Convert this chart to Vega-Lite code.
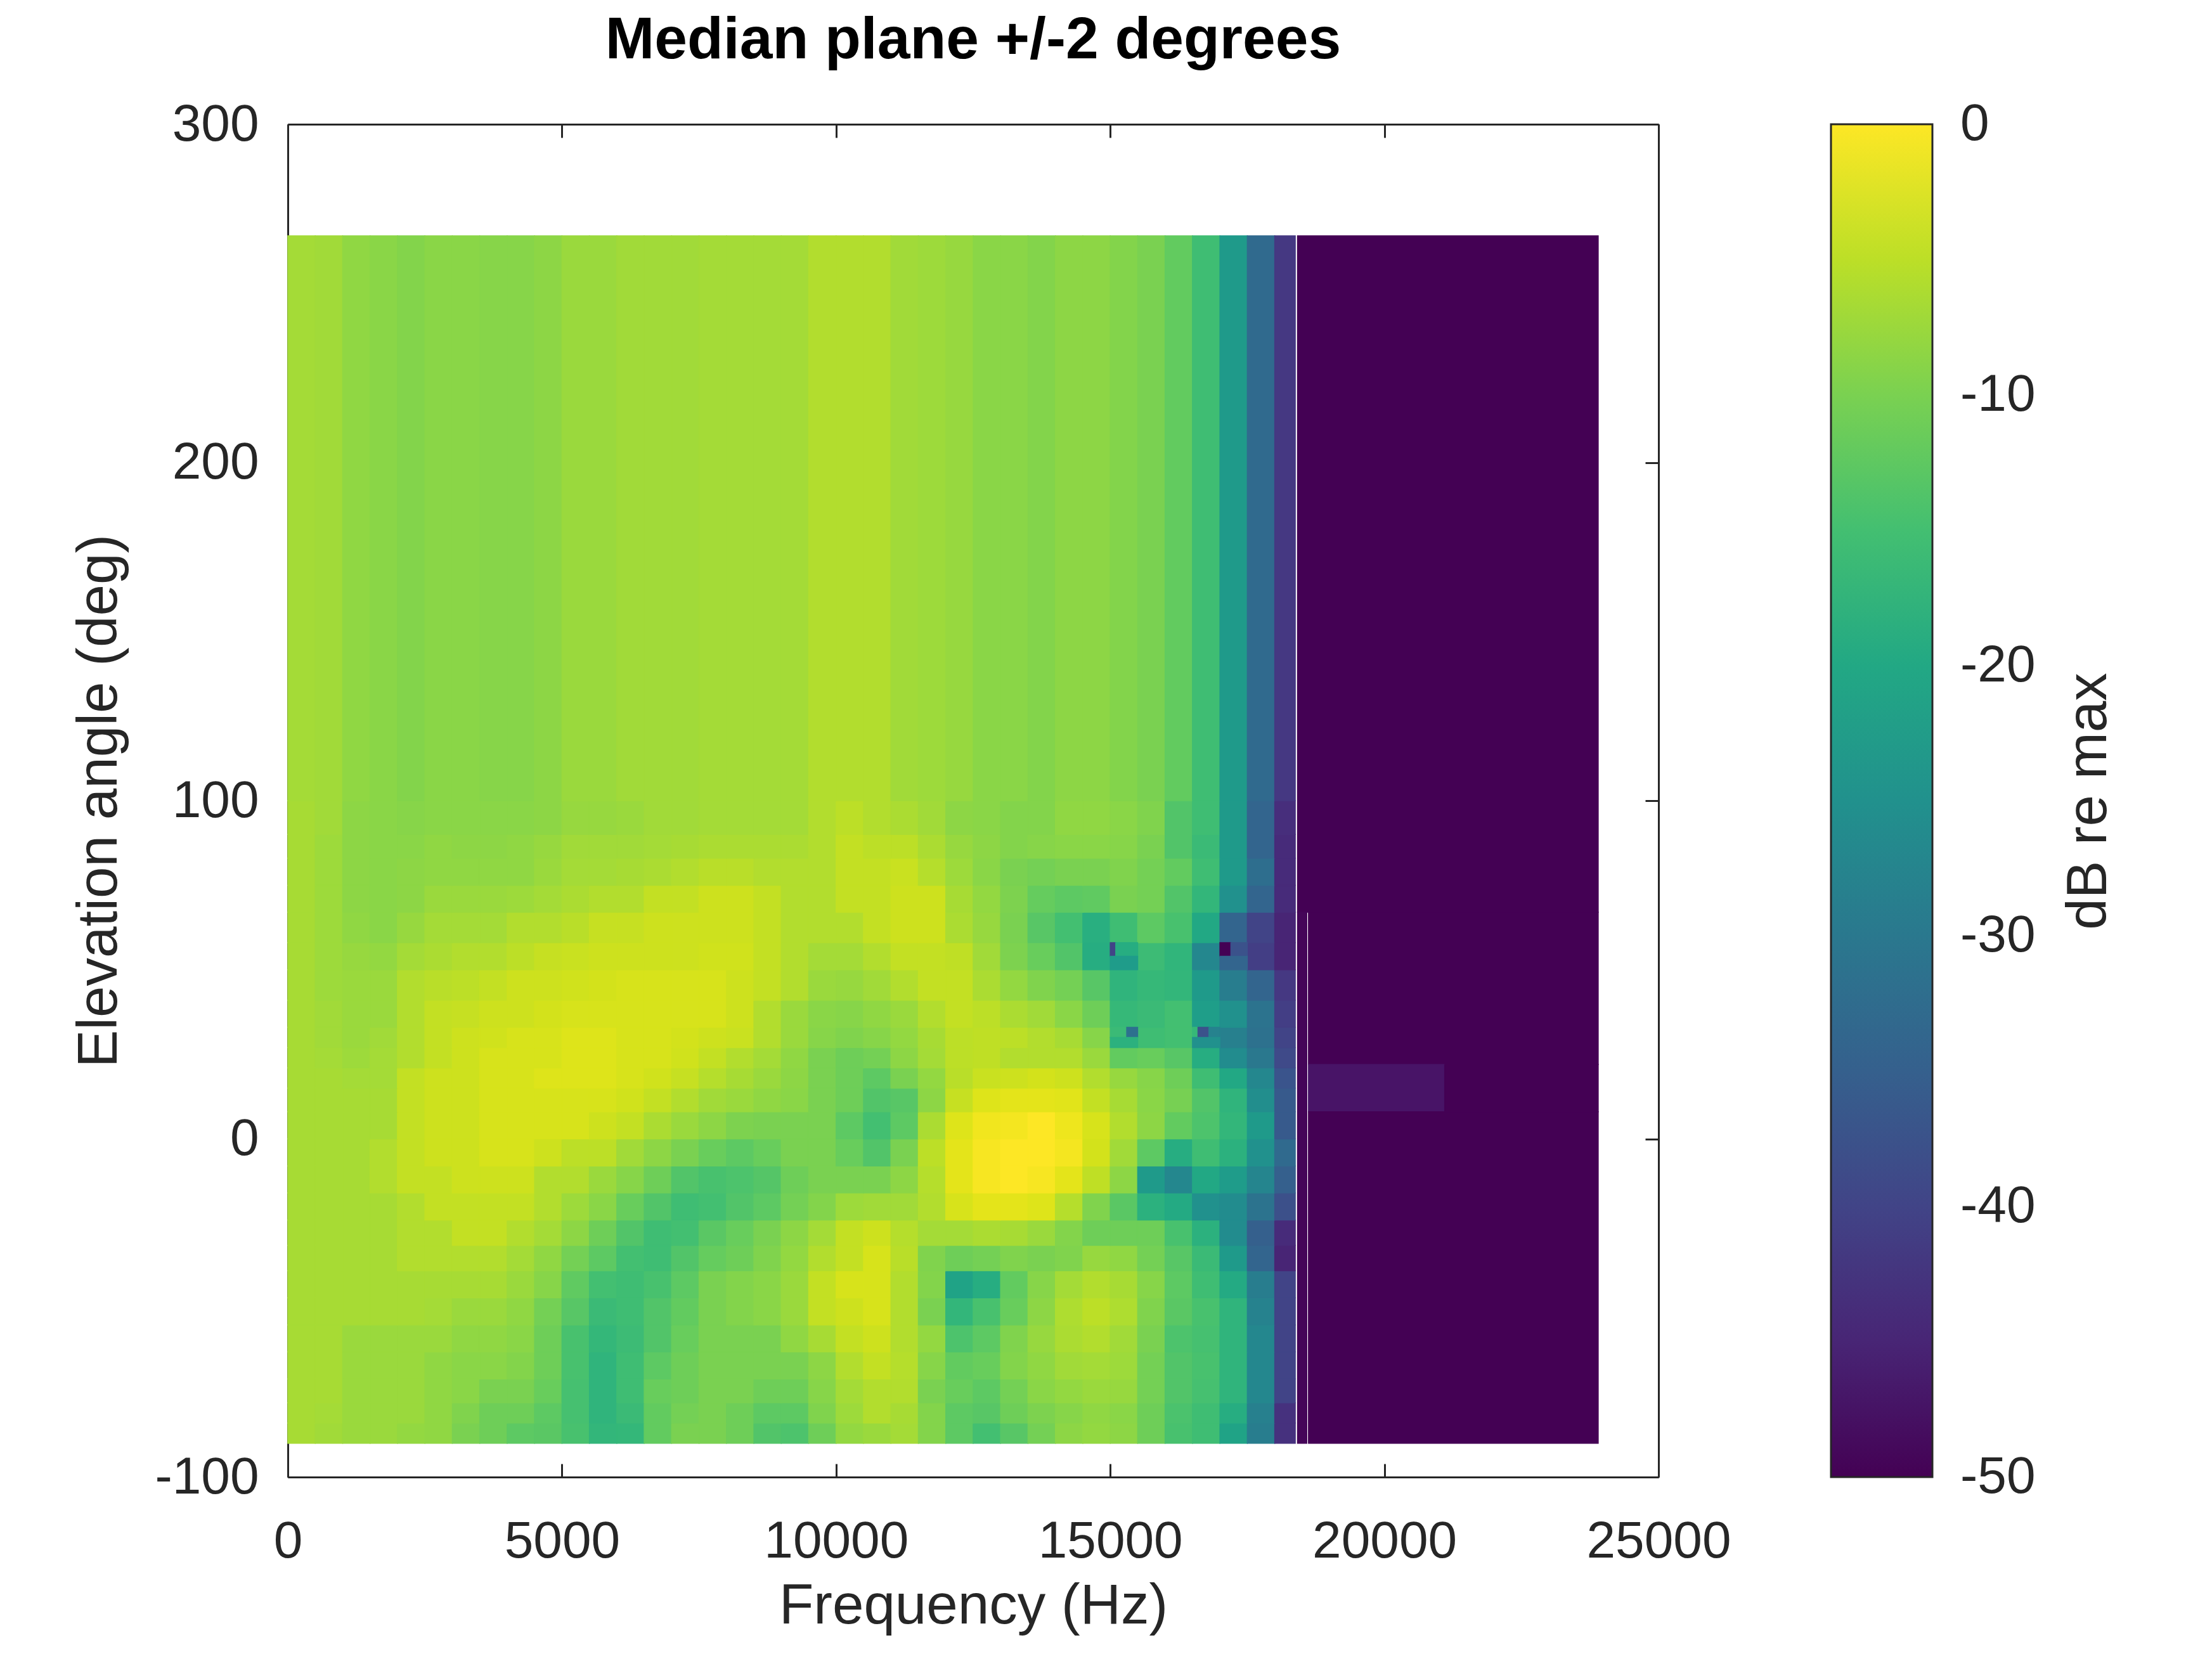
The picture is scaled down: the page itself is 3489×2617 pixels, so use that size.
{
  "$schema": "https://vega.github.io/schema/vega-lite/v6.json",
  "description": "Median plane HRTF magnitude, elevation vs frequency",
  "width": 2162,
  "height": 2134,
  "autosize": {"type": "none"},
  "padding": {"left": 454, "top": 196, "right": 873, "bottom": 287},
  "background": "white",
  "title": {
    "text": "Median plane +/-2 degrees",
    "font": "Liberation Sans",
    "fontSize": 93,
    "fontWeight": "bold",
    "color": "#000000",
    "anchor": "middle",
    "frame": "group",
    "baseline": "alphabetic",
    "offset": -30
  },
  "datasets": {
    "cols": [
      {"col":0,"f0":0,"f1":500},{"col":1,"f0":500,"f1":1000},{"col":2,"f0":1000,"f1":1500},{"col":3,"f0":1500,"f1":2000},
      {"col":4,"f0":2000,"f1":2500},{"col":5,"f0":2500,"f1":3000},{"col":6,"f0":3000,"f1":3500},{"col":7,"f0":3500,"f1":4000},
      {"col":8,"f0":4000,"f1":4500},{"col":9,"f0":4500,"f1":5000},{"col":10,"f0":5000,"f1":5500},{"col":11,"f0":5500,"f1":6000},
      {"col":12,"f0":6000,"f1":6500},{"col":13,"f0":6500,"f1":7000},{"col":14,"f0":7000,"f1":7500},{"col":15,"f0":7500,"f1":8000},
      {"col":16,"f0":8000,"f1":8500},{"col":17,"f0":8500,"f1":9000},{"col":18,"f0":9000,"f1":9500},{"col":19,"f0":9500,"f1":10000},
      {"col":20,"f0":10000,"f1":10500},{"col":21,"f0":10500,"f1":11000},{"col":22,"f0":11000,"f1":11500},{"col":23,"f0":11500,"f1":12000},
      {"col":24,"f0":12000,"f1":12500},{"col":25,"f0":12500,"f1":13000},{"col":26,"f0":13000,"f1":13500},{"col":27,"f0":13500,"f1":14000},
      {"col":28,"f0":14000,"f1":14500},{"col":29,"f0":14500,"f1":15000},{"col":30,"f0":15000,"f1":15500},{"col":31,"f0":15500,"f1":16000},
      {"col":32,"f0":16000,"f1":16500},{"col":33,"f0":16500,"f1":17000},{"col":34,"f0":17000,"f1":17500},{"col":35,"f0":17500,"f1":18000},
      {"col":36,"f0":18000,"f1":18375}
    ],
    "rows": [
      {"row":1,"e0":-90,"e1":-84},{"row":2,"e0":-84,"e1":-78},{"row":3,"e0":-78,"e1":-71},{"row":4,"e0":-71,"e1":-63},
      {"row":5,"e0":-63,"e1":-55},{"row":6,"e0":-55,"e1":-47},{"row":7,"e0":-47,"e1":-39},{"row":8,"e0":-39,"e1":-31.5},
      {"row":9,"e0":-31.5,"e1":-24},{"row":10,"e0":-24,"e1":-16},{"row":11,"e0":-16,"e1":-8},{"row":12,"e0":-8,"e1":0},
      {"row":13,"e0":0,"e1":8},{"row":14,"e0":8,"e1":15},{"row":15,"e0":15,"e1":21},{"row":16,"e0":21,"e1":27},
      {"row":17,"e0":27,"e1":33},{"row":18,"e0":33,"e1":41},{"row":19,"e0":41,"e1":50},{"row":20,"e0":50,"e1":58},
      {"row":21,"e0":58,"e1":67},{"row":22,"e0":67,"e1":75},{"row":23,"e0":75,"e1":83},{"row":24,"e0":83,"e1":90},
      {"row":25,"e0":90,"e1":100},{"row":26,"e0":100,"e1":267}
    ],
    "cells": [
      {"row":1,"col":0,"db":-6.5},{"row":1,"col":1,"db":-7},{"row":1,"col":2,"db":-7.5},{"row":1,"col":3,"db":-7.5},{"row":1,"col":4,"db":-8},{"row":1,"col":5,"db":-8.25},{"row":1,"col":6,"db":-10},{"row":1,"col":7,"db":-11},{"row":1,"col":8,"db":-12.5},{"row":1,"col":9,"db":-12.75},{"row":1,"col":10,"db":-14.5},{"row":1,"col":11,"db":-17},{"row":1,"col":12,"db":-16.75},
      {"row":1,"col":13,"db":-12},{"row":1,"col":14,"db":-10},{"row":1,"col":15,"db":-10},{"row":1,"col":16,"db":-11},{"row":1,"col":17,"db":-13.5},{"row":1,"col":18,"db":-14},{"row":1,"col":19,"db":-11},{"row":1,"col":20,"db":-8},{"row":1,"col":21,"db":-7.5},{"row":1,"col":22,"db":-6.75},{"row":1,"col":23,"db":-9.25},{"row":1,"col":24,"db":-12.5},
      {"row":1,"col":25,"db":-15},{"row":1,"col":26,"db":-13},{"row":1,"col":27,"db":-10.5},{"row":1,"col":28,"db":-8.5},{"row":1,"col":29,"db":-8},{"row":1,"col":30,"db":-8.5},{"row":1,"col":31,"db":-11},{"row":1,"col":32,"db":-14.5},{"row":1,"col":33,"db":-15.5},{"row":1,"col":34,"db":-21},{"row":1,"col":35,"db":-29},{"row":1,"col":36,"db":-43},

      {"row":2,"col":0,"db":-6.5},{"row":2,"col":1,"db":-6.75},{"row":2,"col":2,"db":-7.5},{"row":2,"col":3,"db":-7.5},{"row":2,"col":4,"db":-7.5},{"row":2,"col":5,"db":-8.25},{"row":2,"col":6,"db":-9.5},{"row":2,"col":7,"db":-11},{"row":2,"col":8,"db":-11},{"row":2,"col":9,"db":-12.5},{"row":2,"col":10,"db":-14.75},{"row":2,"col":11,"db":-17.5},{"row":2,"col":12,"db":-16},
      {"row":2,"col":13,"db":-12},{"row":2,"col":14,"db":-10.5},{"row":2,"col":15,"db":-10},{"row":2,"col":16,"db":-11},{"row":2,"col":17,"db":-12.5},{"row":2,"col":18,"db":-12.5},{"row":2,"col":19,"db":-9.5},{"row":2,"col":20,"db":-7.25},{"row":2,"col":21,"db":-5.75},{"row":2,"col":22,"db":-6.5},{"row":2,"col":23,"db":-9.25},{"row":2,"col":24,"db":-12.5},
      {"row":2,"col":25,"db":-13},{"row":2,"col":26,"db":-11},{"row":2,"col":27,"db":-9.75},{"row":2,"col":28,"db":-9},{"row":2,"col":29,"db":-8.25},{"row":2,"col":30,"db":-8.75},{"row":2,"col":31,"db":-11},{"row":2,"col":32,"db":-14.25},{"row":2,"col":33,"db":-15.5},{"row":2,"col":34,"db":-19},{"row":2,"col":35,"db":-28.5},{"row":2,"col":36,"db":-43},

      {"row":3,"col":0,"db":-6.5},{"row":3,"col":1,"db":-6.5},{"row":3,"col":2,"db":-7.5},{"row":3,"col":3,"db":-7.5},{"row":3,"col":4,"db":-7.5},{"row":3,"col":5,"db":-8.25},{"row":3,"col":6,"db":-8.75},{"row":3,"col":7,"db":-10},{"row":3,"col":8,"db":-10},{"row":3,"col":9,"db":-11.5},{"row":3,"col":10,"db":-14.75},{"row":3,"col":11,"db":-17.5},{"row":3,"col":12,"db":-15.5},
      {"row":3,"col":13,"db":-11.5},{"row":3,"col":14,"db":-11},{"row":3,"col":15,"db":-10},{"row":3,"col":16,"db":-10},{"row":3,"col":17,"db":-11},{"row":3,"col":18,"db":-11},{"row":3,"col":19,"db":-9},{"row":3,"col":20,"db":-6.75},{"row":3,"col":21,"db":-5.75},{"row":3,"col":22,"db":-5.75},{"row":3,"col":23,"db":-10},{"row":3,"col":24,"db":-11.5},
      {"row":3,"col":25,"db":-12.5},{"row":3,"col":26,"db":-10.5},{"row":3,"col":27,"db":-8.75},{"row":3,"col":28,"db":-8},{"row":3,"col":29,"db":-7.5},{"row":3,"col":30,"db":-7.75},{"row":3,"col":31,"db":-10.5},{"row":3,"col":32,"db":-13.5},{"row":3,"col":33,"db":-14.75},{"row":3,"col":34,"db":-17.5},{"row":3,"col":35,"db":-27},{"row":3,"col":36,"db":-40},

      {"row":4,"col":0,"db":-6.5},{"row":4,"col":1,"db":-6.5},{"row":4,"col":2,"db":-7.5},{"row":4,"col":3,"db":-7.5},{"row":4,"col":4,"db":-7.5},{"row":4,"col":5,"db":-8.25},{"row":4,"col":6,"db":-8.75},{"row":4,"col":7,"db":-8.75},{"row":4,"col":8,"db":-9.25},{"row":4,"col":9,"db":-11},{"row":4,"col":10,"db":-14.5},{"row":4,"col":11,"db":-17.5},{"row":4,"col":12,"db":-15.5},
      {"row":4,"col":13,"db":-12.5},{"row":4,"col":14,"db":-11},{"row":4,"col":15,"db":-10},{"row":4,"col":16,"db":-10},{"row":4,"col":17,"db":-10},{"row":4,"col":18,"db":-10},{"row":4,"col":19,"db":-8.5},{"row":4,"col":20,"db":-5.75},{"row":4,"col":21,"db":-4.5},{"row":4,"col":22,"db":-5.5},{"row":4,"col":23,"db":-9},{"row":4,"col":24,"db":-12},
      {"row":4,"col":25,"db":-11.5},{"row":4,"col":26,"db":-9.25},{"row":4,"col":27,"db":-8.25},{"row":4,"col":28,"db":-7},{"row":4,"col":29,"db":-6.75},{"row":4,"col":30,"db":-7.25},{"row":4,"col":31,"db":-10.5},{"row":4,"col":32,"db":-13.5},{"row":4,"col":33,"db":-14.5},{"row":4,"col":34,"db":-17.5},{"row":4,"col":35,"db":-27},{"row":4,"col":36,"db":-40},

      {"row":5,"col":0,"db":-6.5},{"row":5,"col":1,"db":-6.5},{"row":5,"col":2,"db":-7.5},{"row":5,"col":3,"db":-7.5},{"row":5,"col":4,"db":-7.5},{"row":5,"col":5,"db":-7.5},{"row":5,"col":6,"db":-8.25},{"row":5,"col":7,"db":-8.25},{"row":5,"col":8,"db":-8.75},{"row":5,"col":9,"db":-11},{"row":5,"col":10,"db":-14.5},{"row":5,"col":11,"db":-16.75},{"row":5,"col":12,"db":-15.75},
      {"row":5,"col":13,"db":-13.5},{"row":5,"col":14,"db":-11.5},{"row":5,"col":15,"db":-10},{"row":5,"col":16,"db":-10},{"row":5,"col":17,"db":-10},{"row":5,"col":18,"db":-8.25},{"row":5,"col":19,"db":-6.5},{"row":5,"col":20,"db":-4.5},{"row":5,"col":21,"db":-3.75},{"row":5,"col":22,"db":-5.75},{"row":5,"col":23,"db":-8},{"row":5,"col":24,"db":-14},
      {"row":5,"col":25,"db":-12.5},{"row":5,"col":26,"db":-9.5},{"row":5,"col":27,"db":-7.75},{"row":5,"col":28,"db":-6.25},{"row":5,"col":29,"db":-5.75},{"row":5,"col":30,"db":-7},{"row":5,"col":31,"db":-10},{"row":5,"col":32,"db":-14},{"row":5,"col":33,"db":-14.75},{"row":5,"col":34,"db":-17.5},{"row":5,"col":35,"db":-27},{"row":5,"col":36,"db":-40},

      {"row":6,"col":0,"db":-6.5},{"row":6,"col":1,"db":-6.5},{"row":6,"col":2,"db":-6.5},{"row":6,"col":3,"db":-6.5},{"row":6,"col":4,"db":-6.5},{"row":6,"col":5,"db":-6.75},{"row":6,"col":6,"db":-7.5},{"row":6,"col":7,"db":-7.5},{"row":6,"col":8,"db":-8.25},{"row":6,"col":9,"db":-10.5},{"row":6,"col":10,"db":-13},{"row":6,"col":11,"db":-16},{"row":6,"col":12,"db":-15.5},
      {"row":6,"col":13,"db":-13.5},{"row":6,"col":14,"db":-12},{"row":6,"col":15,"db":-10},{"row":6,"col":16,"db":-9.25},{"row":6,"col":17,"db":-8.75},{"row":6,"col":18,"db":-7.5},{"row":6,"col":19,"db":-4.5},{"row":6,"col":20,"db":-3.75},{"row":6,"col":21,"db":-3},{"row":6,"col":22,"db":-5.75},{"row":6,"col":23,"db":-10},{"row":6,"col":24,"db":-17},
      {"row":6,"col":25,"db":-14.5},{"row":6,"col":26,"db":-11.5},{"row":6,"col":27,"db":-8.5},{"row":6,"col":28,"db":-6},{"row":6,"col":29,"db":-5},{"row":6,"col":30,"db":-6},{"row":6,"col":31,"db":-9.5},{"row":6,"col":32,"db":-12.75},{"row":6,"col":33,"db":-14.5},{"row":6,"col":34,"db":-17.5},{"row":6,"col":35,"db":-28},{"row":6,"col":36,"db":-40},

      {"row":7,"col":0,"db":-6.5},{"row":7,"col":1,"db":-6.5},{"row":7,"col":2,"db":-6.5},{"row":7,"col":3,"db":-6.5},{"row":7,"col":4,"db":-6.5},{"row":7,"col":5,"db":-6.5},{"row":7,"col":6,"db":-6.5},{"row":7,"col":7,"db":-6.5},{"row":7,"col":8,"db":-7.5},{"row":7,"col":9,"db":-9},{"row":7,"col":10,"db":-12.25},{"row":7,"col":11,"db":-15},{"row":7,"col":12,"db":-15.5},
      {"row":7,"col":13,"db":-14.5},{"row":7,"col":14,"db":-12.5},{"row":7,"col":15,"db":-10},{"row":7,"col":16,"db":-9.25},{"row":7,"col":17,"db":-8.75},{"row":7,"col":18,"db":-7.5},{"row":7,"col":19,"db":-4.5},{"row":7,"col":20,"db":-3},{"row":7,"col":21,"db":-3},{"row":7,"col":22,"db":-5.75},{"row":7,"col":23,"db":-9.25},{"row":7,"col":24,"db":-21},
      {"row":7,"col":25,"db":-19},{"row":7,"col":26,"db":-12},{"row":7,"col":27,"db":-9},{"row":7,"col":28,"db":-6.75},{"row":7,"col":29,"db":-5.75},{"row":7,"col":30,"db":-6.5},{"row":7,"col":31,"db":-9},{"row":7,"col":32,"db":-12.5},{"row":7,"col":33,"db":-15.5},{"row":7,"col":34,"db":-19.5},{"row":7,"col":35,"db":-29},{"row":7,"col":36,"db":-40},

      {"row":8,"col":0,"db":-6.5},{"row":8,"col":1,"db":-6.5},{"row":8,"col":2,"db":-6.5},{"row":8,"col":3,"db":-6.5},{"row":8,"col":4,"db":-5.75},{"row":8,"col":5,"db":-5.75},{"row":8,"col":6,"db":-5.75},{"row":8,"col":7,"db":-5.75},{"row":8,"col":8,"db":-6.75},{"row":8,"col":9,"db":-8.25},{"row":8,"col":10,"db":-10.5},{"row":8,"col":11,"db":-12.5},{"row":8,"col":12,"db":-15},
      {"row":8,"col":13,"db":-15.5},{"row":8,"col":14,"db":-13.5},{"row":8,"col":15,"db":-11.75},{"row":8,"col":16,"db":-11},{"row":8,"col":17,"db":-9.5},{"row":8,"col":18,"db":-8},{"row":8,"col":19,"db":-5.75},{"row":8,"col":20,"db":-4.5},{"row":8,"col":21,"db":-3},{"row":8,"col":22,"db":-5.25},{"row":8,"col":23,"db":-9.5},{"row":8,"col":24,"db":-11},
      {"row":8,"col":25,"db":-10.5},{"row":8,"col":26,"db":-9.5},{"row":8,"col":27,"db":-10},{"row":8,"col":28,"db":-9.5},{"row":8,"col":29,"db":-7.75},{"row":8,"col":30,"db":-8.25},{"row":8,"col":31,"db":-10.5},{"row":8,"col":32,"db":-13},{"row":8,"col":33,"db":-16},{"row":8,"col":34,"db":-23},{"row":8,"col":35,"db":-34},{"row":8,"col":36,"db":-45},

      {"row":9,"col":0,"db":-6.5},{"row":9,"col":1,"db":-6.5},{"row":9,"col":2,"db":-6.5},{"row":9,"col":3,"db":-6.5},{"row":9,"col":4,"db":-5.75},{"row":9,"col":5,"db":-5.75},{"row":9,"col":6,"db":-4.5},{"row":9,"col":7,"db":-4.5},{"row":9,"col":8,"db":-5.75},{"row":9,"col":9,"db":-6.75},{"row":9,"col":10,"db":-8.5},{"row":9,"col":11,"db":-11},{"row":9,"col":12,"db":-13.5},
      {"row":9,"col":13,"db":-15.5},{"row":9,"col":14,"db":-15},{"row":9,"col":15,"db":-12.75},{"row":9,"col":16,"db":-11.5},{"row":9,"col":17,"db":-10},{"row":9,"col":18,"db":-8.5},{"row":9,"col":19,"db":-6.75},{"row":9,"col":20,"db":-4.5},{"row":9,"col":21,"db":-3.75},{"row":9,"col":22,"db":-5.5},{"row":9,"col":23,"db":-6.75},{"row":9,"col":24,"db":-6.75},
      {"row":9,"col":25,"db":-6.25},{"row":9,"col":26,"db":-6.5},{"row":9,"col":27,"db":-7.5},{"row":9,"col":28,"db":-9.25},{"row":9,"col":29,"db":-11},{"row":9,"col":30,"db":-11},{"row":9,"col":31,"db":-11},{"row":9,"col":32,"db":-14.5},{"row":9,"col":33,"db":-18},{"row":9,"col":34,"db":-26},{"row":9,"col":35,"db":-35},{"row":9,"col":36,"db":-44},

      {"row":10,"col":0,"db":-6.5},{"row":10,"col":1,"db":-6.5},{"row":10,"col":2,"db":-6.5},{"row":10,"col":3,"db":-6.5},{"row":10,"col":4,"db":-5.75},{"row":10,"col":5,"db":-4.5},{"row":10,"col":6,"db":-4.5},{"row":10,"col":7,"db":-4.5},{"row":10,"col":8,"db":-4.5},{"row":10,"col":9,"db":-5.75},{"row":10,"col":10,"db":-7.25},{"row":10,"col":11,"db":-8.75},{"row":10,"col":12,"db":-11.5},
      {"row":10,"col":13,"db":-13.5},{"row":10,"col":14,"db":-15.5},{"row":10,"col":15,"db":-15},{"row":10,"col":16,"db":-13.5},{"row":10,"col":17,"db":-12.5},{"row":10,"col":18,"db":-10.5},{"row":10,"col":19,"db":-9.25},{"row":10,"col":20,"db":-7.25},{"row":10,"col":21,"db":-7},{"row":10,"col":22,"db":-7},{"row":10,"col":23,"db":-5.75},{"row":10,"col":24,"db":-3},
      {"row":10,"col":25,"db":-2},{"row":10,"col":26,"db":-2},{"row":10,"col":27,"db":-2.5},{"row":10,"col":28,"db":-5.5},{"row":10,"col":29,"db":-9.5},{"row":10,"col":30,"db":-12.75},{"row":10,"col":31,"db":-18},{"row":10,"col":32,"db":-19.5},{"row":10,"col":33,"db":-25},{"row":10,"col":34,"db":-26},{"row":10,"col":35,"db":-31},{"row":10,"col":36,"db":-38},

      {"row":11,"col":0,"db":-6.5},{"row":11,"col":1,"db":-6.5},{"row":11,"col":2,"db":-6.5},{"row":11,"col":3,"db":-5.75},{"row":11,"col":4,"db":-4.5},{"row":11,"col":5,"db":-4.5},{"row":11,"col":6,"db":-3.75},{"row":11,"col":7,"db":-3.75},{"row":11,"col":8,"db":-3.75},{"row":11,"col":9,"db":-5.75},{"row":11,"col":10,"db":-5.75},{"row":11,"col":11,"db":-7.5},{"row":11,"col":12,"db":-9},
      {"row":11,"col":13,"db":-11},{"row":11,"col":14,"db":-13.5},{"row":11,"col":15,"db":-14.5},{"row":11,"col":16,"db":-14},{"row":11,"col":17,"db":-13.25},{"row":11,"col":18,"db":-11},{"row":11,"col":19,"db":-10},{"row":11,"col":20,"db":-10},{"row":11,"col":21,"db":-10},{"row":11,"col":22,"db":-8.5},{"row":11,"col":23,"db":-5.5},{"row":11,"col":24,"db":-2},
      {"row":11,"col":25,"db":-0.5},{"row":11,"col":26,"db":0},{"row":11,"col":27,"db":-0.5},{"row":11,"col":28,"db":-2},{"row":11,"col":29,"db":-4.75},{"row":11,"col":30,"db":-8.5},{"row":11,"col":31,"db":-23},{"row":11,"col":32,"db":-27},{"row":11,"col":33,"db":-20},{"row":11,"col":34,"db":-22.5},{"row":11,"col":35,"db":-27.5},{"row":11,"col":36,"db":-35},

      {"row":12,"col":0,"db":-6.5},{"row":12,"col":1,"db":-6.5},{"row":12,"col":2,"db":-6.5},{"row":12,"col":3,"db":-5.75},{"row":12,"col":4,"db":-4.5},{"row":12,"col":5,"db":-3.75},{"row":12,"col":6,"db":-3.75},{"row":12,"col":7,"db":-3},{"row":12,"col":8,"db":-3},{"row":12,"col":9,"db":-3.75},{"row":12,"col":10,"db":-5},{"row":12,"col":11,"db":-5},{"row":12,"col":12,"db":-7},
      {"row":12,"col":13,"db":-8.5},{"row":12,"col":14,"db":-10},{"row":12,"col":15,"db":-11.5},{"row":12,"col":16,"db":-12.5},{"row":12,"col":17,"db":-11.5},{"row":12,"col":18,"db":-10},{"row":12,"col":19,"db":-10},{"row":12,"col":20,"db":-11.5},{"row":12,"col":21,"db":-13.5},{"row":12,"col":22,"db":-10},{"row":12,"col":23,"db":-5},{"row":12,"col":24,"db":-2},
      {"row":12,"col":25,"db":-0.5},{"row":12,"col":26,"db":0},{"row":12,"col":27,"db":0},{"row":12,"col":28,"db":-0.75},{"row":12,"col":29,"db":-3.25},{"row":12,"col":30,"db":-7},{"row":12,"col":31,"db":-12.5},{"row":12,"col":32,"db":-19},{"row":12,"col":33,"db":-15.5},{"row":12,"col":34,"db":-18},{"row":12,"col":35,"db":-25},{"row":12,"col":36,"db":-33},

      {"row":13,"col":0,"db":-6.5},{"row":13,"col":1,"db":-6.5},{"row":13,"col":2,"db":-6.5},{"row":13,"col":3,"db":-6.5},{"row":13,"col":4,"db":-4.5},{"row":13,"col":5,"db":-3.75},{"row":13,"col":6,"db":-3.75},{"row":13,"col":7,"db":-3},{"row":13,"col":8,"db":-3},{"row":13,"col":9,"db":-3},{"row":13,"col":10,"db":-3},{"row":13,"col":11,"db":-3.75},{"row":13,"col":12,"db":-4.5},
      {"row":13,"col":13,"db":-6.25},{"row":13,"col":14,"db":-7.5},{"row":13,"col":15,"db":-8.5},{"row":13,"col":16,"db":-9.75},{"row":13,"col":17,"db":-10},{"row":13,"col":18,"db":-10},{"row":13,"col":19,"db":-10},{"row":13,"col":20,"db":-12.5},{"row":13,"col":21,"db":-15},{"row":13,"col":22,"db":-12.5},{"row":13,"col":23,"db":-6.25},{"row":13,"col":24,"db":-2.5},
      {"row":13,"col":25,"db":-1},{"row":13,"col":26,"db":-0.75},{"row":13,"col":27,"db":0},{"row":13,"col":28,"db":-1.25},{"row":13,"col":29,"db":-3},{"row":13,"col":30,"db":-5.75},{"row":13,"col":31,"db":-8.5},{"row":13,"col":32,"db":-12},{"row":13,"col":33,"db":-14},{"row":13,"col":34,"db":-17},{"row":13,"col":35,"db":-23},{"row":13,"col":36,"db":-36},

      {"row":14,"col":0,"db":-6.5},{"row":14,"col":1,"db":-6.5},{"row":14,"col":2,"db":-6.5},{"row":14,"col":3,"db":-6.5},{"row":14,"col":4,"db":-4.5},{"row":14,"col":5,"db":-3.75},{"row":14,"col":6,"db":-3.75},{"row":14,"col":7,"db":-3},{"row":14,"col":8,"db":-3},{"row":14,"col":9,"db":-3},{"row":14,"col":10,"db":-3},{"row":14,"col":11,"db":-3},{"row":14,"col":12,"db":-3.5},
      {"row":14,"col":13,"db":-4.5},{"row":14,"col":14,"db":-5.75},{"row":14,"col":15,"db":-7},{"row":14,"col":16,"db":-7.5},{"row":14,"col":17,"db":-8.25},{"row":14,"col":18,"db":-8.75},{"row":14,"col":19,"db":-10},{"row":14,"col":20,"db":-11},{"row":14,"col":21,"db":-13.5},{"row":14,"col":22,"db":-13},{"row":14,"col":23,"db":-8.5},{"row":14,"col":24,"db":-4.25},
      {"row":14,"col":25,"db":-2.5},{"row":14,"col":26,"db":-2},{"row":14,"col":27,"db":-2},{"row":14,"col":28,"db":-2.25},{"row":14,"col":29,"db":-4.5},{"row":14,"col":30,"db":-6.5},{"row":14,"col":31,"db":-8.75},{"row":14,"col":32,"db":-10.25},{"row":14,"col":33,"db":-13.5},{"row":14,"col":34,"db":-17.5},{"row":14,"col":35,"db":-25.5},{"row":14,"col":36,"db":-36},

      {"row":15,"col":0,"db":-6.5},{"row":15,"col":1,"db":-6.5},{"row":15,"col":2,"db":-6.75},{"row":15,"col":3,"db":-6.75},{"row":15,"col":4,"db":-4.5},{"row":15,"col":5,"db":-3.75},{"row":15,"col":6,"db":-3.75},{"row":15,"col":7,"db":-3},{"row":15,"col":8,"db":-3},{"row":15,"col":9,"db":-2.5},{"row":15,"col":10,"db":-2.5},{"row":15,"col":11,"db":-2.5},{"row":15,"col":12,"db":-3},
      {"row":15,"col":13,"db":-3.5},{"row":15,"col":14,"db":-4.25},{"row":15,"col":15,"db":-5.5},{"row":15,"col":16,"db":-6.5},{"row":15,"col":17,"db":-7.5},{"row":15,"col":18,"db":-8.5},{"row":15,"col":19,"db":-10},{"row":15,"col":20,"db":-11},{"row":15,"col":21,"db":-12.5},{"row":15,"col":22,"db":-10},{"row":15,"col":23,"db":-8},{"row":15,"col":24,"db":-5.25},
      {"row":15,"col":25,"db":-4},{"row":15,"col":26,"db":-3.75},{"row":15,"col":27,"db":-3.25},{"row":15,"col":28,"db":-3.75},{"row":15,"col":29,"db":-5.75},{"row":15,"col":30,"db":-7.75},{"row":15,"col":31,"db":-9},{"row":15,"col":32,"db":-11},{"row":15,"col":33,"db":-15.5},{"row":15,"col":34,"db":-20},{"row":15,"col":35,"db":-27},{"row":15,"col":36,"db":-37},

      {"row":16,"col":0,"db":-6.5},{"row":16,"col":1,"db":-6.75},{"row":16,"col":2,"db":-7.25},{"row":16,"col":3,"db":-6.75},{"row":16,"col":4,"db":-5.75},{"row":16,"col":5,"db":-4.5},{"row":16,"col":6,"db":-3.75},{"row":16,"col":7,"db":-3},{"row":16,"col":8,"db":-3},{"row":16,"col":9,"db":-3},{"row":16,"col":10,"db":-2.5},{"row":16,"col":11,"db":-2.5},{"row":16,"col":12,"db":-3},
      {"row":16,"col":13,"db":-3},{"row":16,"col":14,"db":-3.5},{"row":16,"col":15,"db":-4.5},{"row":16,"col":16,"db":-5.75},{"row":16,"col":17,"db":-6.75},{"row":16,"col":18,"db":-8.25},{"row":16,"col":19,"db":-10},{"row":16,"col":20,"db":-11},{"row":16,"col":21,"db":-10.5},{"row":16,"col":22,"db":-8.5},{"row":16,"col":23,"db":-6.75},{"row":16,"col":24,"db":-5},
      {"row":16,"col":25,"db":-4.75},{"row":16,"col":26,"db":-5.75},{"row":16,"col":27,"db":-5.75},{"row":16,"col":28,"db":-5.75},{"row":16,"col":29,"db":-7.5},{"row":16,"col":30,"db":-12},{"row":16,"col":31,"db":-11.5},{"row":16,"col":32,"db":-13},{"row":16,"col":33,"db":-19},{"row":16,"col":34,"db":-26},{"row":16,"col":35,"db":-30},{"row":16,"col":36,"db":-39},

      {"row":17,"col":0,"db":-6.5},{"row":17,"col":1,"db":-7},{"row":17,"col":2,"db":-7.5},{"row":17,"col":3,"db":-7},{"row":17,"col":4,"db":-5.75},{"row":17,"col":5,"db":-4.5},{"row":17,"col":6,"db":-3.75},{"row":17,"col":7,"db":-3.5},{"row":17,"col":8,"db":-3},{"row":17,"col":9,"db":-3},{"row":17,"col":10,"db":-2.5},{"row":17,"col":11,"db":-2.5},{"row":17,"col":12,"db":-3},
      {"row":17,"col":13,"db":-3},{"row":17,"col":14,"db":-3.25},{"row":17,"col":15,"db":-3.75},{"row":17,"col":16,"db":-4},{"row":17,"col":17,"db":-5.75},{"row":17,"col":18,"db":-7.5},{"row":17,"col":19,"db":-9},{"row":17,"col":20,"db":-9.5},{"row":17,"col":21,"db":-9},{"row":17,"col":22,"db":-8},{"row":17,"col":23,"db":-6.5},{"row":17,"col":24,"db":-5},
      {"row":17,"col":25,"db":-4.75},{"row":17,"col":26,"db":-5},{"row":17,"col":27,"db":-5.75},{"row":17,"col":28,"db":-6.5},{"row":17,"col":29,"db":-9},{"row":17,"col":31,"db":-15.5},{"row":17,"col":32,"db":-15},{"row":17,"col":34,"db":-28.5},{"row":17,"col":35,"db":-31.5},{"row":17,"col":36,"db":-40},

      {"row":18,"col":0,"db":-6.5},{"row":18,"col":1,"db":-7},{"row":18,"col":2,"db":-7.5},{"row":18,"col":3,"db":-7.5},{"row":18,"col":4,"db":-5.75},{"row":18,"col":5,"db":-4.5},{"row":18,"col":6,"db":-4.25},{"row":18,"col":7,"db":-3.75},{"row":18,"col":8,"db":-3.75},{"row":18,"col":9,"db":-3.25},{"row":18,"col":10,"db":-3},{"row":18,"col":11,"db":-3},{"row":18,"col":12,"db":-3},
      {"row":18,"col":13,"db":-3},{"row":18,"col":14,"db":-3},{"row":18,"col":15,"db":-3},{"row":18,"col":16,"db":-3.75},{"row":18,"col":17,"db":-5.75},{"row":18,"col":18,"db":-7.5},{"row":18,"col":19,"db":-8.75},{"row":18,"col":20,"db":-9},{"row":18,"col":21,"db":-8.25},{"row":18,"col":22,"db":-7.5},{"row":18,"col":23,"db":-5.75},{"row":18,"col":24,"db":-4.5},
      {"row":18,"col":25,"db":-5},{"row":18,"col":26,"db":-6.25},{"row":18,"col":27,"db":-7},{"row":18,"col":28,"db":-8.75},{"row":18,"col":29,"db":-11},{"row":18,"col":30,"db":-16.5},{"row":18,"col":31,"db":-16},{"row":18,"col":32,"db":-15},{"row":18,"col":33,"db":-22},{"row":18,"col":34,"db":-25},{"row":18,"col":35,"db":-31},{"row":18,"col":36,"db":-41},

      {"row":19,"col":0,"db":-6.5},{"row":19,"col":1,"db":-7.25},{"row":19,"col":2,"db":-7.5},{"row":19,"col":3,"db":-7.5},{"row":19,"col":4,"db":-5.75},{"row":19,"col":5,"db":-5.25},{"row":19,"col":6,"db":-5},{"row":19,"col":7,"db":-4.5},{"row":19,"col":8,"db":-3.75},{"row":19,"col":9,"db":-3.75},{"row":19,"col":10,"db":-3.5},{"row":19,"col":11,"db":-3.25},{"row":19,"col":12,"db":-3},
      {"row":19,"col":13,"db":-3},{"row":19,"col":14,"db":-3},{"row":19,"col":15,"db":-3},{"row":19,"col":16,"db":-3.75},{"row":19,"col":17,"db":-4.5},{"row":19,"col":18,"db":-5.75},{"row":19,"col":19,"db":-7.5},{"row":19,"col":20,"db":-7.75},{"row":19,"col":21,"db":-7},{"row":19,"col":22,"db":-5.75},{"row":19,"col":23,"db":-4.5},{"row":19,"col":24,"db":-4.5},
      {"row":19,"col":25,"db":-6.25},{"row":19,"col":26,"db":-8},{"row":19,"col":27,"db":-9.5},{"row":19,"col":28,"db":-10.5},{"row":19,"col":29,"db":-13},{"row":19,"col":30,"db":-17.5},{"row":19,"col":31,"db":-16.5},{"row":19,"col":32,"db":-17},{"row":19,"col":33,"db":-23},{"row":19,"col":34,"db":-29},{"row":19,"col":35,"db":-34},{"row":19,"col":36,"db":-42},

      {"row":20,"col":0,"db":-6.5},{"row":20,"col":1,"db":-7.25},{"row":20,"col":2,"db":-7.75},{"row":20,"col":3,"db":-8},{"row":20,"col":4,"db":-6.75},{"row":20,"col":5,"db":-6.25},{"row":20,"col":6,"db":-5.75},{"row":20,"col":7,"db":-5.75},{"row":20,"col":8,"db":-5},{"row":20,"col":9,"db":-4.25},{"row":20,"col":10,"db":-4},{"row":20,"col":11,"db":-3.75},{"row":20,"col":12,"db":-3.75},
      {"row":20,"col":13,"db":-3.75},{"row":20,"col":14,"db":-3.75},{"row":20,"col":15,"db":-3.5},{"row":20,"col":16,"db":-3.5},{"row":20,"col":17,"db":-4.5},{"row":20,"col":18,"db":-5.75},{"row":20,"col":19,"db":-6.75},{"row":20,"col":20,"db":-6.75},{"row":20,"col":21,"db":-5.75},{"row":20,"col":22,"db":-4.5},{"row":20,"col":23,"db":-4.5},{"row":20,"col":24,"db":-4.75},
      {"row":20,"col":25,"db":-7},{"row":20,"col":26,"db":-9.75},{"row":20,"col":27,"db":-11.5},{"row":20,"col":28,"db":-13.5},{"row":20,"col":29,"db":-19},{"row":20,"col":31,"db":-15.75},{"row":20,"col":32,"db":-17.25},{"row":20,"col":33,"db":-27},{"row":20,"col":35,"db":-41},{"row":20,"col":36,"db":-45},

      {"row":21,"col":0,"db":-6.5},{"row":21,"col":1,"db":-7.25},{"row":21,"col":2,"db":-8.25},{"row":21,"col":3,"db":-8.75},{"row":21,"col":4,"db":-7.75},{"row":21,"col":5,"db":-6.75},{"row":21,"col":6,"db":-6.75},{"row":21,"col":7,"db":-6.75},{"row":21,"col":8,"db":-5.75},{"row":21,"col":9,"db":-5.75},{"row":21,"col":10,"db":-5.25},{"row":21,"col":11,"db":-4.25},{"row":21,"col":12,"db":-4.25},
      {"row":21,"col":13,"db":-3.75},{"row":21,"col":14,"db":-3.75},{"row":21,"col":15,"db":-3.75},{"row":21,"col":16,"db":-3.75},{"row":21,"col":17,"db":-4.5},{"row":21,"col":18,"db":-5.75},{"row":21,"col":19,"db":-5.75},{"row":21,"col":20,"db":-5.75},{"row":21,"col":21,"db":-4.5},{"row":21,"col":22,"db":-3.75},{"row":21,"col":23,"db":-3.75},{"row":21,"col":24,"db":-6.25},
      {"row":21,"col":25,"db":-7.75},{"row":21,"col":26,"db":-10},{"row":21,"col":27,"db":-13},{"row":21,"col":28,"db":-15},{"row":21,"col":29,"db":-18.5},{"row":21,"col":30,"db":-15.5},{"row":21,"col":31,"db":-12.5},{"row":21,"col":32,"db":-14.5},{"row":21,"col":33,"db":-20},{"row":21,"col":34,"db":-34},{"row":21,"col":35,"db":-40},{"row":21,"col":36,"db":-45},

      {"row":22,"col":0,"db":-6.5},{"row":22,"col":1,"db":-7.25},{"row":22,"col":2,"db":-8.5},{"row":22,"col":3,"db":-8.75},{"row":22,"col":4,"db":-8.5},{"row":22,"col":5,"db":-7.5},{"row":22,"col":6,"db":-7.5},{"row":22,"col":7,"db":-7.5},{"row":22,"col":8,"db":-7.25},{"row":22,"col":9,"db":-6.75},{"row":22,"col":10,"db":-6.25},{"row":22,"col":11,"db":-5.75},{"row":22,"col":12,"db":-5.75},
      {"row":22,"col":13,"db":-4.5},{"row":22,"col":14,"db":-4.5},{"row":22,"col":15,"db":-3.75},{"row":22,"col":16,"db":-3.75},{"row":22,"col":17,"db":-4.5},{"row":22,"col":18,"db":-5.75},{"row":22,"col":19,"db":-5.75},{"row":22,"col":20,"db":-4.5},{"row":22,"col":21,"db":-4.5},{"row":22,"col":22,"db":-3.75},{"row":22,"col":23,"db":-3.75},{"row":22,"col":24,"db":-6.5},
      {"row":22,"col":25,"db":-8},{"row":22,"col":26,"db":-9.75},{"row":22,"col":27,"db":-11.75},{"row":22,"col":28,"db":-12.5},{"row":22,"col":29,"db":-12.25},{"row":22,"col":30,"db":-10},{"row":22,"col":31,"db":-10.5},{"row":22,"col":32,"db":-13.5},{"row":22,"col":33,"db":-17},{"row":22,"col":34,"db":-25},{"row":22,"col":35,"db":-34},{"row":22,"col":36,"db":-44},

      {"row":23,"col":0,"db":-6.5},{"row":23,"col":1,"db":-7.25},{"row":23,"col":2,"db":-8.5},{"row":23,"col":3,"db":-8.75},{"row":23,"col":4,"db":-8.5},{"row":23,"col":5,"db":-8.25},{"row":23,"col":6,"db":-8.25},{"row":23,"col":7,"db":-8.25},{"row":23,"col":8,"db":-8.25},{"row":23,"col":9,"db":-7.5},{"row":23,"col":10,"db":-6.75},{"row":23,"col":11,"db":-6.75},{"row":23,"col":12,"db":-6.5},
      {"row":23,"col":13,"db":-6.25},{"row":23,"col":14,"db":-5.75},{"row":23,"col":15,"db":-5.25},{"row":23,"col":16,"db":-5.25},{"row":23,"col":17,"db":-5.75},{"row":23,"col":18,"db":-5.75},{"row":23,"col":19,"db":-5.75},{"row":23,"col":20,"db":-4.5},{"row":23,"col":21,"db":-4.5},{"row":23,"col":22,"db":-4},{"row":23,"col":23,"db":-5.5},{"row":23,"col":24,"db":-7.25},
      {"row":23,"col":25,"db":-8.75},{"row":23,"col":26,"db":-10},{"row":23,"col":27,"db":-10.5},{"row":23,"col":28,"db":-10},{"row":23,"col":29,"db":-10},{"row":23,"col":30,"db":-9.5},{"row":23,"col":31,"db":-10.5},{"row":23,"col":32,"db":-12},{"row":23,"col":33,"db":-15.5},{"row":23,"col":34,"db":-23},{"row":23,"col":35,"db":-32},{"row":23,"col":36,"db":-44},

      {"row":24,"col":0,"db":-6.5},{"row":24,"col":1,"db":-7.25},{"row":24,"col":2,"db":-8.5},{"row":24,"col":3,"db":-8.75},{"row":24,"col":4,"db":-8.75},{"row":24,"col":5,"db":-8.25},{"row":24,"col":6,"db":-8.5},{"row":24,"col":7,"db":-8.5},{"row":24,"col":8,"db":-8.25},{"row":24,"col":9,"db":-7.75},{"row":24,"col":10,"db":-7},{"row":24,"col":11,"db":-7},{"row":24,"col":12,"db":-7},
      {"row":24,"col":13,"db":-6.75},{"row":24,"col":14,"db":-6.5},{"row":24,"col":15,"db":-6.25},{"row":24,"col":16,"db":-6.25},{"row":24,"col":17,"db":-6.25},{"row":24,"col":18,"db":-6.25},{"row":24,"col":19,"db":-5.75},{"row":24,"col":20,"db":-4.5},{"row":24,"col":21,"db":-5},{"row":24,"col":22,"db":-5},{"row":24,"col":23,"db":-6.25},{"row":24,"col":24,"db":-7.75},
      {"row":24,"col":25,"db":-8.5},{"row":24,"col":26,"db":-9.25},{"row":24,"col":27,"db":-9},{"row":24,"col":28,"db":-8.75},{"row":24,"col":29,"db":-8.75},{"row":24,"col":30,"db":-9},{"row":24,"col":31,"db":-10},{"row":24,"col":32,"db":-13.5},{"row":24,"col":33,"db":-16},{"row":24,"col":34,"db":-23},{"row":24,"col":35,"db":-34},{"row":24,"col":36,"db":-44},

      {"row":25,"col":0,"db":-6.5},{"row":25,"col":1,"db":-7},{"row":25,"col":2,"db":-8.5},{"row":25,"col":3,"db":-8.75},{"row":25,"col":4,"db":-9},{"row":25,"col":5,"db":-8.75},{"row":25,"col":6,"db":-8.75},{"row":25,"col":7,"db":-8.75},{"row":25,"col":8,"db":-8.75},{"row":25,"col":9,"db":-8.5},{"row":25,"col":10,"db":-7.75},{"row":25,"col":11,"db":-7.75},{"row":25,"col":12,"db":-7.5},
      {"row":25,"col":13,"db":-7},{"row":25,"col":14,"db":-7},{"row":25,"col":15,"db":-6.75},{"row":25,"col":16,"db":-6.75},{"row":25,"col":17,"db":-6.75},{"row":25,"col":18,"db":-6.75},{"row":25,"col":19,"db":-5.75},{"row":25,"col":20,"db":-5},{"row":25,"col":21,"db":-5.75},{"row":25,"col":22,"db":-6.25},{"row":25,"col":23,"db":-7},{"row":25,"col":24,"db":-8.5},
      {"row":25,"col":25,"db":-8.75},{"row":25,"col":26,"db":-9.25},{"row":25,"col":27,"db":-9.25},{"row":25,"col":28,"db":-8.25},{"row":25,"col":29,"db":-8.25},{"row":25,"col":30,"db":-8.75},{"row":25,"col":31,"db":-9.5},{"row":25,"col":32,"db":-13.5},{"row":25,"col":33,"db":-15.5},{"row":25,"col":34,"db":-23},{"row":25,"col":35,"db":-34},{"row":25,"col":36,"db":-43.5},

      {"row":26,"col":0,"db":-6.75},{"row":26,"col":1,"db":-7},{"row":26,"col":2,"db":-8.25},{"row":26,"col":3,"db":-8.75},{"row":26,"col":4,"db":-9.25},{"row":26,"col":5,"db":-8.75},{"row":26,"col":6,"db":-8.75},{"row":26,"col":7,"db":-9},{"row":26,"col":8,"db":-9},{"row":26,"col":9,"db":-8.5},{"row":26,"col":10,"db":-7.5},{"row":26,"col":11,"db":-7.5},{"row":26,"col":12,"db":-7},
      {"row":26,"col":13,"db":-7},{"row":26,"col":14,"db":-7},{"row":26,"col":15,"db":-6.75},{"row":26,"col":16,"db":-6.75},{"row":26,"col":17,"db":-6.75},{"row":26,"col":18,"db":-6.75},{"row":26,"col":19,"db":-5.75},{"row":26,"col":20,"db":-5.75},{"row":26,"col":21,"db":-5.75},{"row":26,"col":22,"db":-7},{"row":26,"col":23,"db":-7.25},{"row":26,"col":24,"db":-7.75},
      {"row":26,"col":25,"db":-8.75},{"row":26,"col":26,"db":-8.75},{"row":26,"col":27,"db":-9.25},{"row":26,"col":28,"db":-8.5},{"row":26,"col":29,"db":-8.5},{"row":26,"col":30,"db":-9.25},{"row":26,"col":31,"db":-10},{"row":26,"col":32,"db":-12},{"row":26,"col":33,"db":-15.5},{"row":26,"col":34,"db":-23},{"row":26,"col":35,"db":-33},{"row":26,"col":36,"db":-42}
    ],
    "extras": [
      {"f0":15000,"f1":15300,"e0":30,"e1":33,"db":-16},
      {"f0":15300,"f1":15500,"e0":30,"e1":33,"db":-31.5},
      {"f0":15000,"f1":15500,"e0":27,"e1":30,"db":-18},
      {"f0":16500,"f1":16600,"e0":30,"e1":33,"db":-16.5},
      {"f0":16600,"f1":16800,"e0":30,"e1":33,"db":-37.5},
      {"f0":16800,"f1":17000,"e0":30,"e1":33,"db":-28},
      {"f0":16500,"f1":17000,"e0":27,"e1":30,"db":-25},
      {"f0":15000,"f1":15100,"e0":54,"e1":58,"db":-40},
      {"f0":15100,"f1":15500,"e0":54,"e1":58,"db":-19},
      {"f0":15000,"f1":15500,"e0":50,"e1":54,"db":-22.5},
      {"f0":17000,"f1":17200,"e0":54,"e1":58,"db":-50},
      {"f0":17200,"f1":17500,"e0":54,"e1":58,"db":-37.5},
      {"f0":17000,"f1":17500,"e0":50,"e1":54,"db":-34},
      {"f0":18415,"f1":23900,"e0":67,"e1":267,"db":-50},
      {"f0":18415,"f1":18585,"e0":-90,"e1":67,"db":-49.5},
      {"f0":18615,"f1":23900,"e0":22,"e1":67,"db":-50},
      {"f0":18615,"f1":21100,"e0":8,"e1":22,"db":-47.5},
      {"f0":21100,"f1":23900,"e0":8,"e1":22,"db":-50},
      {"f0":18615,"f1":23900,"e0":-90,"e1":8,"db":-50}
    ]
  },
  "layer": [
    {
      "data": {"name": "cells"},
      "transform": [
        {"lookup": "col", "from": {"data": {"name": "cols"}, "key": "col", "fields": ["f0", "f1"]}},
        {"lookup": "row", "from": {"data": {"name": "rows"}, "key": "row", "fields": ["e0", "e1"]}}
      ],
      "mark": {"type": "rect", "strokeWidth": 1.5, "stroke": {"expr": "scale('color', datum.db)"}},
      "encoding": {
        "x": {
          "field": "f0", "type": "quantitative",
          "scale": {"domain": [0, 25000], "nice": false, "zero": false},
          "axis": {
            "orient": "bottom",
            "values": [0, 5000, 10000, 15000, 20000, 25000],
            "labelExpr": "'' + datum.value",
            "title": "Frequency (Hz)",
            "labelPadding": 82,
            "titlePadding": 18
          }
        },
        "x2": {"field": "f1"},
        "y": {
          "field": "e0", "type": "quantitative",
          "scale": {"domain": [-100, 300], "nice": false, "zero": false},
          "axis": {
            "orient": "left",
            "values": [-100, 0, 100, 200, 300],
            "labelExpr": "'' + datum.value",
            "title": "Elevation angle (deg)",
            "labelPadding": 67,
            "titlePadding": 52
          }
        },
        "y2": {"field": "e1"},
        "color": {
          "field": "db", "type": "quantitative",
          "scale": {"domain": [-50, 0], "scheme": "viridis"},
          "legend": {
            "type": "gradient",
            "orient": "none",
            "legendX": 2434,
            "legendY": 0,
            "direction": "vertical",
            "gradientLength": 2134,
            "gradientThickness": 160,
            "gradientStrokeColor": "#262626",
            "gradientStrokeWidth": 3,
            "values": [-50, -40, -30, -20, -10, 0],
            "labelExpr": "'' + datum.value",
            "labelFont": "Liberation Sans",
            "labelFontSize": 82,
            "labelColor": "#262626",
            "labelOffset": 44,
            "labelOverlap": false,
            "labelLimit": 0,
            "title": "dB re max",
            "titleFont": "Liberation Sans",
            "titleFontSize": 89,
            "titleFontWeight": "normal",
            "titleColor": "#262626",
            "titleOrient": "right",
            "titleAnchor": "middle",
            "titleBaseline": "top",
            "titlePadding": 41,
            "titleLimit": 0,
            "padding": 0,
            "encode": {
              "labels": {"update": {"baseline": {"value": "middle"}}},
              "title": {"update": {"angle": {"value": 270}}}
            }
          }
        }
      }
    },
    {
      "data": {"name": "extras"},
      "mark": {"type": "rect", "strokeWidth": 1.5, "stroke": {"expr": "scale('color', datum.db)"}},
      "encoding": {
        "x": {
          "field": "f0", "type": "quantitative",
          "axis": {"orient": "top", "values": [0, 5000, 10000, 15000, 20000, 25000], "labels": false, "title": null}
        },
        "x2": {"field": "f1"},
        "y": {
          "field": "e0", "type": "quantitative",
          "axis": {"orient": "right", "values": [-100, 0, 100, 200, 300], "labels": false, "title": null}
        },
        "y2": {"field": "e1"},
        "color": {"field": "db", "type": "quantitative"}
      }
    }
  ],
  "resolve": {"axis": {"x": "independent", "y": "independent"}},
  "config": {
    "view": {"stroke": null},
    "axis": {
      "grid": false,
      "domainColor": "#262626",
      "domainWidth": 3,
      "tickColor": "#262626",
      "tickWidth": 3,
      "tickSize": -21,
      "labelFont": "Liberation Sans",
      "labelFontSize": 82,
      "labelColor": "#262626",
      "labelFlush": false,
      "labelOverlap": false,
      "labelLimit": 0,
      "titleFont": "Liberation Sans",
      "titleFontSize": 89,
      "titleFontWeight": "normal",
      "titleColor": "#262626"
    },
    "legend": {
      "gradientVerticalMaxLength": 2134,
      "gradientVerticalMinLength": 100
    }
  }
}
